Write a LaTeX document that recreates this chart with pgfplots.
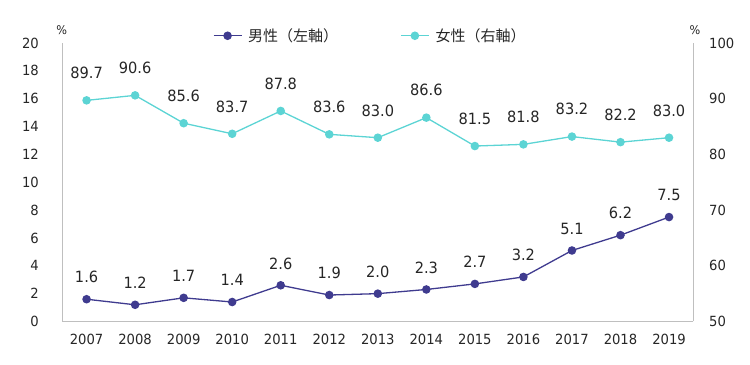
\documentclass[border=0pt]{standalone}
\usepackage{pgfplots}
\pgfplotsset{compat=1.18}
\usepackage{fontspec}
\setmainfont{DejaVu Sans}[FakeStretch=0.94]
\newfontfamily\jp{Noto Sans CJK JP}
\definecolor{male}{HTML}{3F3B8F}
\definecolor{female}{HTML}{5CD4D4}
\definecolor{axgray}{HTML}{BFBFBF}
\definecolor{txt}{HTML}{262626}
\begin{document}
\begin{tikzpicture}
\useasboundingbox (0bp,0bp) rectangle (750bp,365bp);
\pgfplotsset{
  base/.style={
    at={(62.3bp,43.5bp)}, anchor=south west,
    scale only axis, width=631bp, height=278.5bp,
    xmin=-0.5, xmax=12.5,
    xtick={0,...,12},
    xticklabels={2007,2008,2009,2010,2011,2012,2013,2014,2015,2016,2017,2018,2019},
    axis line style={axgray, line width=0.8bp},
    tick style={draw=none},
    ticklabel style={font=\fontsize{14bp}{16bp}\selectfont, text=txt},
    xticklabel style={yshift=-9bp},
    /pgf/number format/assume math mode=true,
    clip=false,
    nodes near coords,
    every node near coord/.append style={font=\fontsize{15.5bp}{18bp}\selectfont, text=txt, anchor=south, inner sep=0pt,
      /pgf/number format/fixed, /pgf/number format/fixed zerofill, /pgf/number format/precision=1},
  }
}
\begin{axis}[base,
  axis x line*=bottom, axis y line*=left,
  ymin=0, ymax=20, ytick={0,2,...,20},
  yticklabel style={xshift=-20bp},
  every node near coord/.append style={yshift=15.4bp},
  legend style={at={(0.2384,1.026)}, anchor=west, draw=none, fill=none, inner sep=0pt,
    font=\jp\fontsize{15bp}{16bp}\selectfont,
    nodes={inner sep=0pt, text=txt},
    /tikz/column sep=6bp,
    /tikz/every even column/.append style={column sep=62bp}},
  legend columns=2,
  legend image code/.code={\draw[mark repeat=2,mark phase=2,#1] plot coordinates {(0bp,0bp) (14bp,0bp) (28bp,0bp)};},
]
\addplot[male, line width=1.3bp, mark=*, mark size=3.6bp, mark options={fill=male, draw=male}] coordinates {
(0,1.6) (1,1.2) (2,1.7) (3,1.4) (4,2.6) (5,1.9) (6,2.0) (7,2.3) (8,2.7) (9,3.2) (10,5.1) (11,6.2) (12,7.5)};
\addlegendentry{男性（左軸）}
\addlegendimage{female, line width=1.3bp, mark=*, mark size=3.6bp, mark options={fill=female, draw=female}}
\addlegendentry{女性（右軸）}
\end{axis}
\begin{axis}[base,
  axis x line=none, axis y line*=right,
  ymin=50, ymax=100, ytick={50,60,...,100},
  yticklabel style={xshift=12.4bp},
  every node near coord/.append style={yshift=20.8bp},
]
\addplot[female, line width=1.3bp, mark=*, mark size=3.6bp, mark options={fill=female, draw=female}] coordinates {
(0,89.7) (1,90.6) (2,85.6) (3,83.7) (4,87.8) (5,83.6) (6,83.0) (7,86.6) (8,81.5) (9,81.8) (10,83.2) (11,82.2) (12,83.0)};
\end{axis}
\node[font=\fontsize{12bp}{13bp}\selectfont, text=txt] at (61.7bp,335bp) {\%};
\node[font=\fontsize{12bp}{13bp}\selectfont, text=txt] at (695bp,335bp) {\%};
\end{tikzpicture}
\end{document}
